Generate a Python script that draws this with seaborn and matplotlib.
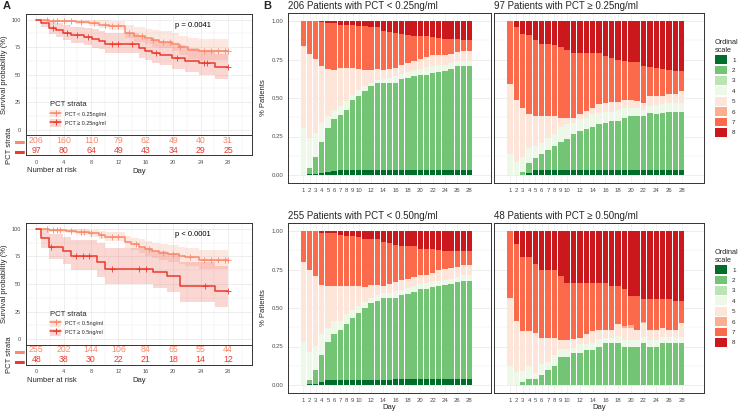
import numpy as np
import pandas as pd
import matplotlib
matplotlib.use("Agg")
import matplotlib.pyplot as plt
from matplotlib.patches import Patch
from matplotlib.lines import Line2D
from matplotlib.ticker import MultipleLocator, FixedLocator
import seaborn as sns

sns.set_theme(style="white")
plt.rcParams["font.family"] = ["Liberation Sans", "DejaVu Sans"]

# ---------------- Panel A : Kaplan-Meier ----------------
risk_days = [0, 4, 8, 12, 16, 20, 24, 28]

# PCT 0.25 cut-off
km_t_lo25 = [0, 1.9, 5.8, 7.7, 9.2, 10.6, 12.9, 14.2, 15.9, 16.9, 17.9, 19.8, 20.8, 22.2, 23.7]
km_s_lo25 = [100, 98.8, 97.6, 96.4, 95.2, 94.0, 88.0, 85.0, 83.0, 81.4, 80.0, 77.8, 75.4, 72.5, 71.5]
km_hi_lo25 = [100, 100, 100, 99.8, 99.5, 99, 95, 93, 91.5, 90.5, 89.5, 87.5, 85.5, 83, 82]
km_lo_lo25 = [100, 97.3, 95.5, 93.8, 92.2, 90.8, 83.5, 80, 77.5, 75.5, 74, 71, 68, 64.5, 63]
cens_lo25 = [1.5, 2.5, 3, 4, 5, 6.5, 8.5, 10, 11, 12, 13.5, 15.5, 17, 18.5, 19.5, 21, 24.5, 25.5, 26.5, 27.5, 28]

km_t_hi25 = [0, 0.7, 1.9, 2.9, 3.9, 5.1, 7.0, 8.2, 9.2, 10.0, 15.0, 15.9, 16.9, 18.1, 19.8, 21.7, 23.7, 26.1]
km_s_hi25 = [100, 97, 92, 90.4, 88, 86, 84.4, 82, 80.8, 77.5, 74, 71.9, 70, 68, 65, 62.6, 60.5, 56.5]
km_hi_hi25 = [100, 100, 97.5, 96.5, 95, 93.5, 92.5, 91, 90, 87.5, 84.5, 82.5, 81, 79, 76.5, 74, 72, 69]
km_lo_hi25 = [100, 93.5, 86.5, 84.5, 81.5, 79, 77, 74.5, 73, 69.5, 65.5, 63, 61, 58.5, 55.5, 52.5, 50, 46]
cens_hi25 = [2.5, 4.5, 6, 7.5, 11, 12, 14, 17.5, 20.5, 24.5, 25, 28]

risk_lo25 = [206, 160, 110, 79, 62, 49, 40, 31]
risk_hi25 = [97, 80, 64, 49, 43, 34, 29, 25]

# PCT 0.5 cut-off
km_t_lo05 = [0, 1.9, 4.3, 5.8, 7.7, 9.2, 10.1, 12.9, 13.8, 15.0, 15.9, 16.9, 17.9, 19.3, 20.8, 21.7, 23.7]
km_s_lo05 = [100, 98.8, 97.9, 97.0, 95.8, 94.0, 92.8, 88.0, 86.0, 83.8, 81.4, 80.0, 78.4, 77.0, 75.4, 74.0, 71.6]
km_hi_lo05 = [100, 100, 99.9, 99.5, 98.8, 97.8, 97, 93.5, 92, 90.5, 88.5, 87.5, 86, 85, 83.5, 82.5, 80.5]
km_lo_lo05 = [100, 97.5, 96, 94.5, 93, 90.5, 88.8, 83, 80.5, 78, 75, 73.5, 71.5, 69.5, 68, 66, 63.5]
cens_lo05 = [1.5, 2.5, 3, 3.5, 5, 6.5, 7, 8, 9.5, 11, 12, 14.5, 16.5, 18.5, 20, 22.5, 24.5, 25.5, 26.5, 27.5, 28]

km_t_hi05 = [0, 0.7, 1.9, 3.9, 5.1, 8.9, 10.0, 17.1, 19.1, 21.0, 26.1]
km_s_hi05 = [100, 91.5, 83.5, 79.5, 75, 69.5, 63.5, 60.5, 57.5, 48, 44]
km_hi_hi05 = [100, 100, 95, 93, 90, 87, 82.5, 80, 77.5, 70, 66]
km_lo_hi05 = [100, 83, 73, 68, 63, 56.5, 50, 46.5, 43, 33.5, 29.5]
cens_hi05 = [2.1, 5.8, 6.8, 7.7, 11, 15, 16, 24.6, 28]

risk_lo05 = [255, 202, 144, 106, 84, 65, 55, 44]
risk_hi05 = [48, 38, 30, 22, 21, 18, 14, 12]

# ---------------- Panel B : ordinal scale, cumulative share per day ----------------
days = list(range(1, 29))
ordinal_levels = [1, 2, 3, 4, 5, 6, 7, 8]
ordinal_colors = ["#006D2C", "#74C476", "#BAE4B3", "#EDF8E9", "#FEE5D9", "#FCAE91", "#FB6A4A", "#CB181D"]

b_lo25 = dict(
    c1=[0, .005, .005, .012, .022, .027, .03, .03, .03, .03, .03, .03, .03, .03, .03, .03,
        .035, .035, .035, .035, .035, .035, .035, .035, .035, .035, .035, .035],
    c2=[0, .043, .12, .214, .305, .365, .389, .425, .486, .516, .544, .577, .6, .6, .6, .6,
        .624, .63, .646, .652, .652, .663, .67, .678, .69, .706, .71, .71],
    c4=[.307, .24, .27, .34, .38, .42, .447, .48, .52, .55, .577, .6, .62, .626, .63, .64,
        .657, .67, .685, .69, .7, .706, .717, .717, .728, .739, .743, .743],
    c5=[.84, .786, .754, .706, .69, .685, .695, .695, .695, .69, .685, .685, .69, .68, .69, .695,
        .717, .728, .743, .754, .765, .778, .782, .782, .786, .8, .803, .803],
    c7=[1, 1, 1, .995, .99, .985, .975, .975, .975, .97, .965, .96, .96, .935, .93, .92,
        .915, .91, .905, .9, .9, .895, .89, .885, .885, .88, .875, .875],
)
b_hi25 = dict(
    c1=[0, 0, 0, .01, .03, .03, .03, .03, .03, .03, .03, .03, .03, .03, .03, .03,
        .03, .03, .03, .03, .03, .03, .03, .03, .03, .03, .03, .03],
    c2=[0, 0, .017, .08, .112, .134, .162, .188, .214, .235, .263, .285, .296, .313, .328, .339,
        .35, .35, .371, .38, .38, .38, .4, .393, .4, .41, .41, .41],
    c4=[.138, .084, .12, .177, .188, .21, .238, .263, .311, .328, .339, .361, .371, .393, .404, .41,
        .41, .421, .432, .432, .436, .425, .445, .454, .462, .469, .469, .469],
    c5=[.594, .49, .436, .393, .382, .382, .382, .382, .367, .367, .367, .393, .415, .436, .462, .469,
        .475, .475, .49, .484, .479, .469, .512, .512, .516, .523, .523, .544],
    c7=[1, .961, .918, .907, .879, .853, .853, .842, .832, .814, .793, .793, .793, .793, .793, .771,
        .76, .745, .739, .732, .732, .711, .702, .695, .691, .685, .678, .678],
)
b_lo05 = dict(
    c1=[0, .005, .005, .02, .03, .035, .035, .035, .035, .035, .035, .035, .035, .035, .035, .042,
        .042, .042, .042, .042, .042, .042, .042, .042, .042, .042, .042, .042],
    c2=[0, .035, .1, .194, .281, .333, .354, .393, .436, .469, .501, .531, .544, .562, .566, .566,
        .587, .592, .605, .626, .626, .637, .641, .648, .657, .67, .678, .678],
    c4=[.281, .214, .253, .328, .371, .415, .415, .458, .49, .512, .54, .566, .583, .598, .598, .609,
        .62, .631, .641, .657, .663, .674, .678, .685, .691, .702, .717, .717],
    c5=[.797, .745, .706, .652, .641, .641, .646, .646, .646, .641, .637, .652, .652, .646, .657, .67,
        .685, .691, .702, .713, .717, .728, .749, .754, .76, .767, .778, .782],
    c7=[1, 1, 1, .99, .985, .985, .975, .965, .965, .96, .95, .95, .95, .93, .925, .91,
        .905, .9, .9, .885, .885, .88, .875, .872, .872, .87, .87, .87],
)
b_hi05 = dict(
    c1=[0] * 28,
    c2=[0, 0, .02, .04, .04, .063, .1, .123, .184, .184, .205, .205, .227, .227, .248, .27,
        .27, .27, .248, .248, .248, .27, .248, .248, .27, .27, .27, .27],
    c4=[.123, .084, .09, .123, .08, .134, .151, .194, .231, .231, .242, .263, .263, .274, .296, .307,
        .307, .317, .29, .29, .29, .31, .29, .29, .31, .31, .31, .31],
    c5=[.566, .415, .35, .35, .335, .307, .307, .307, .29, .29, .296, .307, .328, .35, .354, .354,
        .354, .393, .371, .37, .354, .4, .354, .354, .37, .354, .354, .4],
    c6=[.566, .415, .35, .35, .335, .307, .307, .307, .29, .29, .296, .307, .328, .35, .354, .354,
        .354, .393, .385, .39, .354, .41, .354, .354, .37, .354, .354, .4],
    c7=[1, .916, .832, .832, .788, .75, .75, .75, .706, .663, .663, .663, .663, .663, .663, .663,
        .641, .641, .624, .58, .58, .56, .56, .56, .56, .56, .544, .544],
)

day_ticks = [1, 2, 3, 4, 5, 6, 7, 8, 9, 10, 12, 14, 16, 18, 20, 22, 24, 26, 28]

col_lo = "#F98A6C"
col_hi = "#EC3A2B"
grid_col = "#EBEBEB"
frame_col = "#333333"
tick_col = "#4D4D4D"

W, H = 742, 413
fig = plt.figure(figsize=(W / 100, H / 100), dpi=100)


def px_axes(x0, y0, x1, y1):
    return fig.add_axes([x0 / W, 1 - y1 / H, (x1 - x0) / W, (y1 - y0) / H])


def frame(ax):
    for sp in ax.spines.values():
        sp.set_visible(True)
        sp.set_color(frame_col)
        sp.set_linewidth(0.7)
    ax.set_facecolor("white")
    ax.set_axisbelow(True)
    ax.grid(True, which="major", color=grid_col, lw=0.6)
    ax.grid(True, which="minor", color=grid_col, lw=0.35)
    ax.tick_params(which="major", length=2, width=0.5, color=tick_col, colors=tick_col, pad=1.5)
    ax.tick_params(which="minor", length=0)


def km_panel(ax, groups, labels, pval):
    handles = []
    for (t, s, hi, lo, cens), col in zip(groups, [col_lo, col_hi]):
        tt = np.append(t, 28)
        ss = np.append(s, s[-1])
        ax.fill_between(tt, np.append(lo, lo[-1]), np.append(hi, hi[-1]), step="post",
                        color=col, alpha=0.2, lw=0)
        df = pd.DataFrame({"day": tt, "surv": ss})
        sns.lineplot(data=df, x="day", y="surv", drawstyle="steps-post", color=col, lw=1.1,
                     estimator=None, sort=False, ax=ax)
        idx = np.searchsorted(t, cens, side="right") - 1
        sns.scatterplot(x=cens, y=np.array(s)[idx], marker="+", color=col, s=16,
                        linewidth=0.6, ax=ax, zorder=3)
        handles.append((Patch(facecolor=col, alpha=0.2, lw=0),
                        Line2D([], [], color=col, lw=1.1, marker="+", ms=5, mew=0.7)))
    ax.set_xlim(-1.5, 31.5)
    ax.set_ylim(-5, 105)
    ax.xaxis.set_major_locator(MultipleLocator(4))
    ax.xaxis.set_minor_locator(MultipleLocator(2))
    ax.yaxis.set_major_locator(MultipleLocator(25))
    ax.yaxis.set_minor_locator(MultipleLocator(12.5))
    frame(ax)
    ax.tick_params(axis="x", labelbottom=False, length=0)
    ax.tick_params(axis="y", labelsize=4)
    ax.set_xlabel("")
    ax.set_ylabel("Survival probability (%)", fontsize=5.5, labelpad=3)
    ax.text(20.2, 95, pval, fontsize=5.5, va="center", ha="left", color="black")
    leg = ax.legend(handles, labels, title="PCT strata", loc="lower left",
                    bbox_to_anchor=(0.09, 0.04), frameon=False, fontsize=4,
                    title_fontsize=5.5, handlelength=1.9, handleheight=1.6,
                    labelspacing=0.35, borderpad=0.2)
    leg._legend_box.align = "left"


def risk_panel(ax, lo_vals, hi_vals):
    for vals, ypos, col in [(lo_vals, 2, col_lo), (hi_vals, 1, col_hi)]:
        for d, v in zip(risk_days, vals):
            ax.text(d, ypos, str(v), color=col, fontsize=6.3, ha="center", va="center")
    ax.set_xlim(-1.5, 31.5)
    ax.set_ylim(0.5, 2.5)
    ax.set_xticks(risk_days)
    ax.xaxis.set_minor_locator(MultipleLocator(2))
    ax.set_yticks([1, 2])
    frame(ax)
    ax.grid(False, axis="y", which="both")
    ax.tick_params(axis="x", labelsize=4, length=2)
    ax.set_yticklabels(["\u25ac", "\u25ac"], fontsize=7)
    for lab, col in zip(ax.get_yticklabels(), [col_hi, col_lo]):
        lab.set_color(col)
    ax.tick_params(axis="y", length=0, pad=1)
    ax.set_ylabel("PCT strata", fontsize=5.5, labelpad=1)
    ax.set_xlabel("Day", fontsize=5.5, labelpad=2)


def stack_panel(ax, cum, title, left, xlabel):
    c1 = cum["c1"]
    c2 = cum["c2"]
    c3 = cum.get("c3", c2)
    c4 = cum["c4"]
    c5 = cum["c5"]
    c6 = cum.get("c6", c5)
    c7 = cum["c7"]
    c8 = [1.0] * len(days)
    tops = [c1, c2, c3, c4, c5, c6, c7, c8]
    long = pd.DataFrame({
        "day": np.tile(days, 8),
        "level": np.repeat(ordinal_levels, len(days)),
        "top": np.concatenate(tops),
    })
    for lev in reversed(ordinal_levels):
        sns.barplot(data=long[long["level"] == lev], x="day", y="top", native_scale=True,
                    color=ordinal_colors[lev - 1], saturation=1, width=0.86,
                    errorbar=None, linewidth=0, ax=ax)
    ax.set_xlim(-1.5, 31.5)
    ax.set_ylim(-0.05, 1.05)
    ax.xaxis.set_major_locator(FixedLocator(day_ticks))
    ax.set_xticklabels([str(d) for d in day_ticks])
    ax.yaxis.set_major_locator(FixedLocator([0, .25, .5, .75, 1]))
    ax.yaxis.set_minor_locator(MultipleLocator(0.125))
    frame(ax)
    ax.grid(True, axis="x", which="major", color=grid_col, lw=0.5)
    ax.tick_params(axis="x", labelsize=4.3, length=2)
    if left:
        ax.set_yticklabels(["0.00", "0.25", "0.50", "0.75", "1.00"])
        ax.tick_params(axis="y", labelsize=4.3)
        ax.set_ylabel("% Patients", fontsize=5.5, labelpad=3)
    else:
        ax.tick_params(axis="y", labelleft=False, length=0)
        ax.set_ylabel("")
    ax.set_xlabel("Day" if xlabel else "", fontsize=5.5, labelpad=1)
    ax.set_title(title, loc="left", fontsize=7, pad=3)


# ---- panel A
ax_km1 = px_axes(26, 14, 252, 135.3)
km_panel(ax_km1,
         [(km_t_lo25, km_s_lo25, km_hi_lo25, km_lo_lo25, cens_lo25),
          (km_t_hi25, km_s_hi25, km_hi_hi25, km_lo_hi25, cens_hi25)],
         ["PCT < 0.25ng/ml", "PCT \u2265 0.25ng/ml"], "p = 0.0041")
ax_r1 = px_axes(26, 135.3, 252, 155.3)
risk_panel(ax_r1, risk_lo25, risk_hi25)

ax_km2 = px_axes(26, 223.3, 252, 344.6)
km_panel(ax_km2,
         [(km_t_lo05, km_s_lo05, km_hi_lo05, km_lo_lo05, cens_lo05),
          (km_t_hi05, km_s_hi05, km_hi_hi05, km_lo_hi05, cens_hi05)],
         ["PCT < 0.5ng/ml", "PCT \u2265 0.5ng/ml"], "p < 0.0001")
ax_r2 = px_axes(26, 344.6, 252, 364.6)
risk_panel(ax_r2, risk_lo05, risk_hi05)

fig.text(27 / W, 1 - 171 / H, "Number at risk", fontsize=5.5, va="center", ha="left")
fig.text(27 / W, 1 - 380 / H, "Number at risk", fontsize=5.5, va="center", ha="left")

# ---- panel B
ax_b1 = px_axes(288, 13.3, 491, 182.7)
stack_panel(ax_b1, b_lo25, "206 Patients with PCT < 0.25ng/ml", True, False)
ax_b2 = px_axes(494, 13.3, 704, 182.7)
stack_panel(ax_b2, b_hi25, "97 Patients with PCT \u2265 0.25ng/ml", False, False)
ax_b3 = px_axes(288, 223.3, 491, 392.7)
stack_panel(ax_b3, b_lo05, "255 Patients with PCT < 0.50ng/ml", True, True)
ax_b4 = px_axes(494, 223.3, 704, 392.7)
stack_panel(ax_b4, b_hi05, "48 Patients with PCT \u2265 0.50ng/ml", False, True)

for ytop in [38, 248]:
    leg_handles = [Patch(facecolor=c, edgecolor="none", label=str(l))
                   for l, c in zip(ordinal_levels, ordinal_colors)]
    leg = fig.legend(handles=leg_handles, title="Ordinal\nscale", loc="upper left",
                     bbox_to_anchor=(714 / W, 1 - ytop / H), frameon=False, fontsize=4.5,
                     title_fontsize=5.3, handlelength=1.9, handleheight=1.8,
                     labelspacing=0.25, handletextpad=0.9, borderpad=0.1,
                     borderaxespad=0)
    leg._legend_box.align = "left"

fig.text(3 / W, 1 - 6 / H, "A", fontsize=8, fontweight="bold", va="center")
fig.text(263 / W, 1 - 6 / H, "B", fontsize=8, fontweight="bold", va="center")

fig.savefig("out.png", dpi=100)
